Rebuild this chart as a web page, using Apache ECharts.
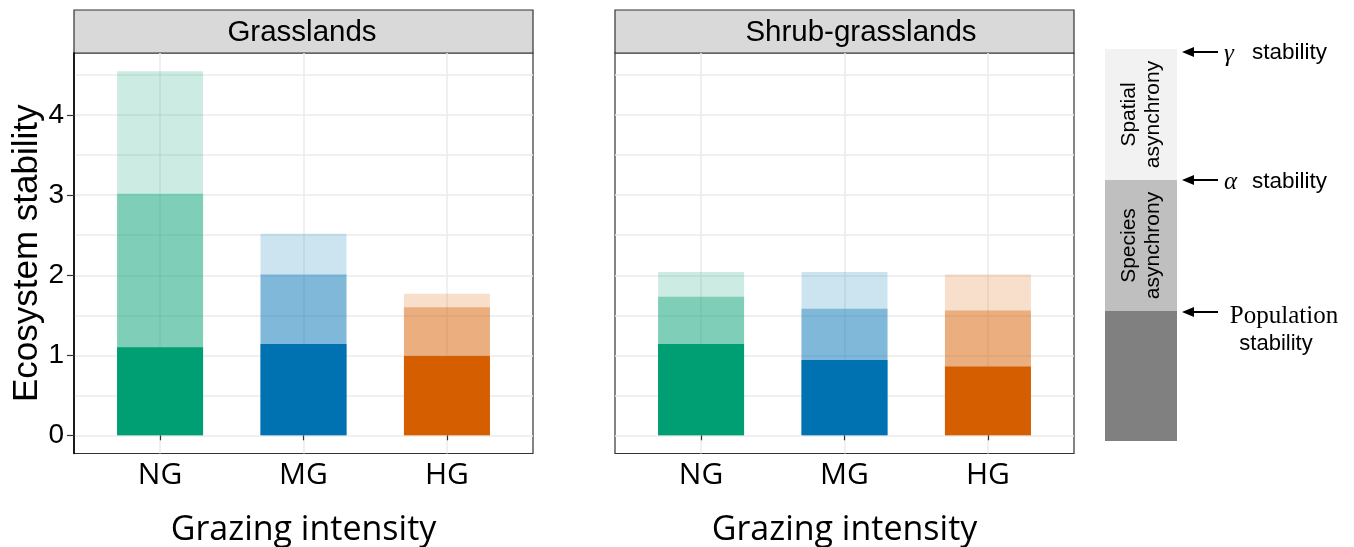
<!DOCTYPE html>
<html>
<head>
<meta charset="utf-8">
<script src="https://cdn.jsdelivr.net/npm/echarts@6/dist/echarts.min.js"></script>
<style>html,body{margin:0;padding:0;background:#fff}#c{width:1354px;height:547px}</style>
</head>
<body>
<div id="c"></div>
<script>
// ---- data ----
const categories = ['NG', 'MG', 'HG'];
const panels = ['Grasslands', 'Shrub-grasslands'];
// Grasslands
const grassPopulation = [1.10, 1.14, 0.99];
const grassAlpha = [3.02, 2.01, 1.60];
const grassGamma = [4.55, 2.52, 1.77];
// Shrub-grasslands
const shrubPopulation = [1.14, 0.94, 0.86];
const shrubAlpha = [1.73, 1.58, 1.56];
const shrubGamma = [2.04, 2.04, 2.01];
const yTickLabels = [0, 1, 2, 3, 4];
const yGridValues = [0, 0.5, 1, 1.5, 2, 2.5, 3, 3.5, 4, 4.5];
const legendParts = ['Spatial\nasynchrony', 'Species\nasynchrony', ''];

// ---- style ----
const catColors = ['#009E73', '#0072B2', '#D55E00'];
function rgba(hex, a) {
  const n = parseInt(hex.slice(1), 16);
  return 'rgba(' + (n >> 16) + ',' + ((n >> 8) & 255) + ',' + (n & 255) + ',' + a + ')';
}
const allVals = grassGamma.concat(shrubGamma);
const dmax = Math.max.apply(null, allVals);
const yMin = -0.05 * dmax, yMax = 1.05 * dmax;

const GRID_TOP = 53, GRID_BOTTOM = 93.5, GRID_W = 459;
const lefts = [74, 615];
const stripTextX = [302, 861];
const STRIP_TOP = 10;

const chart = echarts.init(document.getElementById('c'), null, {renderer: 'canvas'});

const grids = lefts.map(l => ({left: l, top: GRID_TOP, width: GRID_W, bottom: GRID_BOTTOM,
  outerBoundsMode: 'none', containLabel: false,
  show: true, borderColor: '#333', borderWidth: 1.2, backgroundColor: '#fff'}));

const xAxes = [0, 1].map(i => ({
  type: 'value', gridIndex: i, min: 0.4, max: 3.6,
  axisLine: {show: false},
  axisTick: {show: true, customValues: [1, 2, 3], length: 5, lineStyle: {color: '#333', width: 1.2}},
  axisLabel: {customValues: [1, 2, 3], formatter: v => categories[Math.round(v) - 1] || '',
    fontFamily: 'Open Sans', fontSize: 30, color: '#000', margin: 7},
  splitLine: {show: true, lineStyle: {color: '#ebebeb', width: 1.5}},
  name: 'Grazing intensity', nameLocation: 'middle', nameGap: 60,
  nameTextStyle: {fontFamily: 'Open Sans', fontSize: 34, color: '#000'}
}));

const yAxes = [];
[0, 1].forEach(i => {
  yAxes.push({
    type: 'value', gridIndex: i, min: yMin, max: yMax, position: 'left',
    axisLine: {show: i === 0, lineStyle: {color: '#000', width: 1.6}},
    axisTick: {show: i === 0, customValues: yTickLabels, length: 7, lineStyle: {color: '#333', width: 1.2}},
    axisLabel: {show: i === 0, customValues: yTickLabels, fontFamily: 'Liberation Sans', fontSize: 28, color: '#000', margin: 10},
    splitLine: {show: false},
    name: i === 0 ? 'Ecosystem stability' : '', nameLocation: 'middle', nameGap: 29,
    nameTextStyle: {fontFamily: 'Liberation Sans', fontSize: 35, color: '#000'}
  });
  yAxes.push({
    type: 'value', gridIndex: i, min: yMin, max: yMax, position: 'left',
    axisLine: {show: false},
    axisTick: {show: false, customValues: yGridValues},
    axisLabel: {show: false, customValues: yGridValues},
    splitLine: {show: true, lineStyle: {color: '#ebebeb', width: 1.5}}
  });
});

// overlapping bars drawn from 0: light (gamma) behind, mid (alpha), solid (population) in front
function mkSeries(panel, vals, alpha, name) {
  return {
    type: 'bar', name: name, xAxisIndex: panel, yAxisIndex: panel * 2,
    barWidth: 86, barGap: '-100%', silent: true,
    data: vals.map((v, i) => ({value: [i + 1, v], itemStyle: {color: alpha === 1 ? catColors[i] : rgba(catColors[i], alpha)}}))
  };
}
const series = [
  mkSeries(0, grassGamma, 0.2, 'γ stability'),
  mkSeries(0, grassAlpha, 0.375, 'α stability'),
  mkSeries(0, grassPopulation, 1, 'Population stability'),
  mkSeries(1, shrubGamma, 0.2, 'γ stability'),
  mkSeries(1, shrubAlpha, 0.375, 'α stability'),
  mkSeries(1, shrubPopulation, 1, 'Population stability')
];

// ---- strips & schematic legend ----
const graphic = [];
panels.forEach((p, i) => {
  graphic.push({type: 'rect', shape: {x: lefts[i], y: STRIP_TOP, width: GRID_W, height: GRID_TOP - STRIP_TOP},
    style: {fill: '#d9d9d9', stroke: '#333', lineWidth: 1.2}});
  graphic.push({type: 'text', x: stripTextX[i], y: (STRIP_TOP + GRID_TOP) / 2 + 1,
    style: {text: p, fontFamily: 'Liberation Sans', fontSize: 29.5, fill: '#000', align: 'center', verticalAlign: 'middle'}});
});
const LX = 1105, LW = 72;
const bounds = [49, 180, 311, 441];
const fills = ['#f2f2f2', '#bfbfbf', '#808080'];
legendParts.forEach((t, i) => {
  graphic.push({type: 'rect', shape: {x: LX, y: bounds[i], width: LW, height: bounds[i + 1] - bounds[i]}, style: {fill: fills[i]}});
  if (t) graphic.push({type: 'text', x: LX + LW / 2, y: (bounds[i] + bounds[i + 1]) / 2, rotation: Math.PI / 2,
    style: {text: t, fontFamily: 'Liberation Sans', fontSize: 21, lineHeight: 24, fill: '#000', align: 'center', verticalAlign: 'middle'}});
});
function arrow(y) {
  graphic.push({type: 'line', shape: {x1: 1190, y1: y, x2: 1218, y2: y}, style: {stroke: '#000', lineWidth: 2}});
  graphic.push({type: 'polygon', shape: {points: [[1182, y], [1194, y - 5], [1194, y + 5]]}, style: {fill: '#000'}});
}
arrow(52); arrow(180); arrow(312);
graphic.push({type: 'text', x: 1224, y: 54, style: {text: 'γ', fontFamily: 'Liberation Serif', fontStyle: 'italic', fontSize: 25, fill: '#000', verticalAlign: 'middle'}});
graphic.push({type: 'text', x: 1252, y: 53, style: {text: 'stability', fontFamily: 'Liberation Sans', fontSize: 22.5, fill: '#000', verticalAlign: 'middle'}});
graphic.push({type: 'text', x: 1224, y: 182, style: {text: 'α', fontFamily: 'Liberation Serif', fontStyle: 'italic', fontSize: 25, fill: '#000', verticalAlign: 'middle'}});
graphic.push({type: 'text', x: 1252, y: 182, style: {text: 'stability', fontFamily: 'Liberation Sans', fontSize: 22.5, fill: '#000', verticalAlign: 'middle'}});
graphic.push({type: 'text', x: 1284, y: 316, style: {text: 'Population', fontFamily: 'Liberation Serif', fontSize: 25, fill: '#000', align: 'center', verticalAlign: 'middle'}});
graphic.push({type: 'text', x: 1276, y: 344, style: {text: 'stability', fontFamily: 'Liberation Sans', fontSize: 22, fill: '#000', align: 'center', verticalAlign: 'middle'}});

chart.setOption({
  animation: false,
  backgroundColor: '#fff',
  grid: grids, xAxis: xAxes, yAxis: yAxes, series: series, graphic: graphic
});
</script>
</body>
</html>
